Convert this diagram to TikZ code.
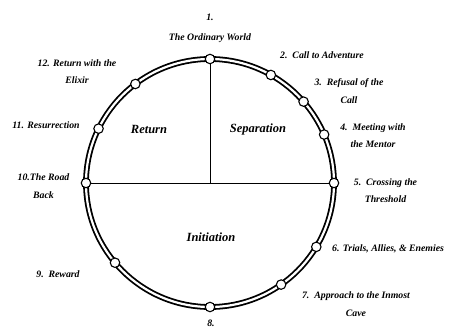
\documentclass[tikz,border=0pt]{standalone}
\usepackage{fontspec}
\setmainfont{Liberation Serif}
\usepackage{tikz}
\usetikzlibrary{positioning}

\begin{document}
\begin{tikzpicture}[x=1pt,y=1pt,
	stage/.style={circle, draw=black, line width=1.1pt, fill=white, minimum size=9.5pt, inner sep=0pt},
	lbl/.style={font=\fontsize{9.8}{17.5}\selectfont\bfseries\itshape, align=center, inner sep=0pt},
	part/.style={font=\fontsize{12.5}{14}\selectfont\bfseries\itshape, inner sep=0pt}]
	\useasboundingbox (-210,-146) rectangle (239,183);
	\fill[white] (-210,-146) rectangle (239,183);
	
	% The journey circle
	\coordinate (c) at (0,0);
	\draw[line width=1.8pt, double=white, double distance=2.2pt] (c) circle (124);
	
	% Stages on the circle
	\foreach \a [count=\i] in {90,60.6,41,23,0,-31,-55,-90,-140,180,154,127} {
		\node[stage] (s\i) at (\a:124) {};
	}
	
	% Dividing lines
	\draw[line width=0.8pt] (s1) -- (c);
	\draw[line width=0.8pt] (s10) -- (s5);
	
	% Parts of the journey
	\node[part] (ret) at (-61,54) {Return};
	\node[part] (sep) at (48,54) {Separation};
	\node[part] (ini) at (1,-54) {Initiation};
	
	% Stage labels
	\node[lbl] (l1) at (0,155) {1.\\[2.5pt]The Ordinary World};
	\node[lbl] (l2) at (112,128) {2.~~Call to Adventure};
	\node[lbl] (l3) at (139,92) {3.~~Refusal of the\\Call};
	\node[lbl] (l4) at (163,47.5) {4.~~Meeting with\\the Mentor};
	\node[lbl] (l5) at (175.5,-7.5) {5.~~Crossing the\\Threshold};
	\node[lbl, anchor=west] (l6) at (122,-66) {6. Trials, Allies, \& Enemies};
	\node[lbl] (l7) at (146,-121) {7.~~Approach to the Inmost\\Cave};
	\node[lbl] (l8) at (1,-140) {8.};
	\node[lbl] (l9) at (-152,-91) {9.~~Reward};
	\node[lbl] (l10) at (-166.5,-3) {10.The Road\\Back};
	\node[lbl] (l11) at (-164,58) {11. Resurrection};
	\node[lbl] (l12) at (-133,111.5) {12. Return with the\\Elixir};
\end{tikzpicture}
\end{document}
